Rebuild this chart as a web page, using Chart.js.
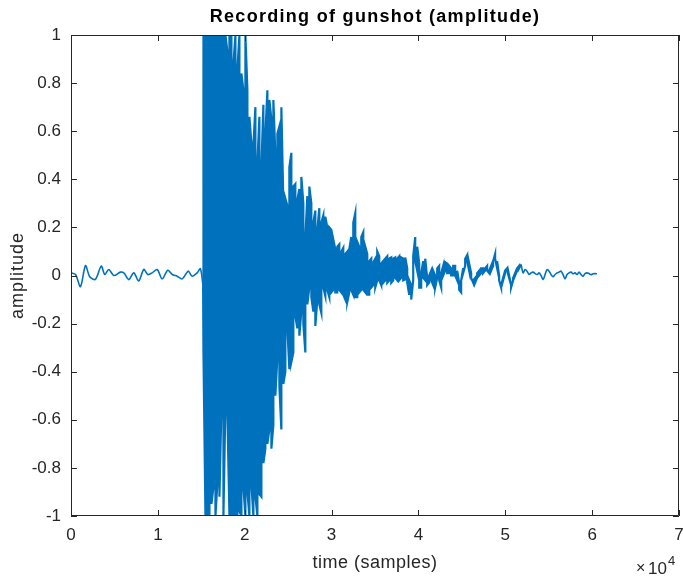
<!DOCTYPE html>
<html>
<head>
<meta charset="utf-8">
<title>Recording of gunshot (amplitude)</title>
<script src="https://cdn.jsdelivr.net/npm/chart.js@4/dist/chart.umd.min.js"></script>
<style>
    html, body { margin: 0; padding: 0; background: #ffffff; }
    #wrap { width: 683px; height: 579px; }
</style>
</head>
<body>
<div id="wrap"><canvas id="gunshot-chart" width="683" height="579"></canvas></div>
<script>
// Lead-in before the shot (sample index, amplitude)
const quietX = [0, 520, 1090, 1670, 2160, 2820, 3480, 3890, 4350, 4930, 5700, 6080, 6650, 7230, 7800,
    8380, 8840, 9340, 9920, 10500, 11140, 11650, 12220, 12800, 13490, 13950, 14520, 14900, 15210];
const quietY = [0.011, 0.004, -0.046, 0.041, -0.005, -0.016, 0.039, 0.004, 0.025, 0.0, 0.014, 0.011, -0.017, 0.011, -0.023,
    0.025, 0.004, 0.011, 0.025, -0.014, 0.022, 0.004, -0.003, -0.014, 0.018, -0.003, 0.011, 0.028, -0.046];

// The shot itself: upper / lower swing read every 230 samples from 15250 on
const burstStart = 15250;
const burstStep = 230;
const burstHi = [
    1.0, 1.0, 1.0, 1.0, 1.0, 1.0, 1.0, 1.0, 1.0, 1.0,
    1.0, 1.0, 0.93, 1.0, 1.0, 0.88, 1.0, 0.86, 1.0, 0.84,
    0.77, 1.0, 0.77, 0.66, 0.55, 0.54, 0.70, 0.47, 0.66, 0.45,
    0.71, 0.59, 0.77, 0.73, 0.65, 0.73, 0.50, 0.59, 0.62, 0.70,
    0.30, 0.32, 0.29, 0.45, 0.51, 0.37, 0.38, 0.315, 0.36, 0.41,
    0.30, 0.16, 0.33, 0.37, 0.30, 0.22, 0.27, 0.19, 0.28, 0.22,
    0.25, 0.245, 0.20, 0.20, 0.19, 0.15, 0.11, 0.12, 0.13, 0.10,
    0.115, 0.09, 0.10, 0.11, 0.16, 0.22, 0.26, 0.14, 0.12, 0.16,
    0.18, 0.12, 0.09, 0.06, 0.07, 0.055, 0.07, 0.10, 0.08, 0.05,
    0.06, 0.07, 0.08, 0.07, 0.075, 0.07, 0.075, 0.07, 0.08, 0.075,
    0.07, 0.075, 0.03, -0.02, -0.04, 0.08, 0.16, 0.12, 0.05, 0.01,
    0.06, 0.07, -0.01, 0.0, 0.02, 0.02, 0.0, 0.03, 0.04, 0.01,
    0.04, 0.056, 0.05, 0.04, 0.03, 0.04, 0.04, 0.02, -0.03, -0.02,
    0.03, 0.07, 0.085, 0.05, 0.01, -0.02, -0.01, 0.01, 0.02, 0.03,
    0.03, 0.03, 0.04, 0.02, 0.04, 0.06, 0.09, 0.06, 0.0, -0.04,
    -0.01, 0.02, 0.03, 0.0, -0.04, -0.01, 0.01, 0.03, 0.04
];
const burstLo = [
    -0.32, -1.0, -1.0, -1.0, -0.95, -0.88, -1.0, -0.86, -0.92, -0.55,
    -1.0, -0.53, -0.58, -1.0, -1.0, -1.0, -1.0, -1.0, -0.98, -1.0,
    -0.88, -1.0, -0.90, -1.0, -0.87, -1.0, -0.92, -1.0, -0.91, -0.92,
    -0.78, -0.72, -0.70, -0.64, -0.72, -0.62, -0.50, -0.34, -0.46, -0.64,
    -0.45, -0.40, -0.22, -0.39, -0.36, -0.32, -0.17, -0.22, -0.25, -0.15,
    -0.20, -0.32, -0.12, -0.05, -0.09, -0.15, -0.21, -0.10, -0.12, -0.155,
    -0.05, -0.085, -0.06, -0.09, -0.07, -0.06, -0.07, -0.07, -0.06, -0.07,
    -0.08, -0.10, -0.11, -0.07, -0.06, -0.08, -0.09, -0.09, -0.07, -0.06,
    -0.06, -0.07, -0.08, -0.08, -0.05, -0.04, -0.05, -0.02, -0.02, -0.04,
    -0.03, -0.02, -0.03, -0.02, -0.03, -0.02, -0.01, -0.02, -0.02, -0.01,
    -0.02, -0.017, -0.03, -0.08, -0.10, -0.02, 0.06, 0.02, -0.05, -0.05,
    -0.01, -0.02, -0.04, -0.03, -0.02, -0.04, -0.05, -0.01, -0.02, -0.05,
    0.0, 0.02, 0.01, 0.01, 0.0, 0.0, 0.0, -0.02, -0.06, -0.07,
    0.01, 0.04, 0.06, 0.02, -0.01, -0.03, -0.03, -0.01, 0.0, 0.01,
    0.01, 0.02, 0.02, 0.01, 0.02, 0.04, 0.07, 0.03, -0.02, -0.05,
    -0.02, 0.01, 0.02, -0.01, -0.05, -0.02, 0.0, 0.02, 0.03
];

// Decaying tail, one reading every 230 samples
const tailStart = 51820;
const tailY = [0.046, 0.011, 0.025, 0.018, 0.004, 0.011, 0.014, 0.008, 0.004, 0.011,
    0.0, -0.017, 0.004, 0.025, 0.018, 0.004, -0.005, 0.004, 0.011, 0.014,
    0.018, 0.004, -0.014, 0.004, 0.011, 0.014, 0.007, 0.011, 0.004, 0.014,
    0.004, -0.003, 0.008, 0.011, 0.008, 0.003, 0.007, 0.008, 0.007];

// Axis ticks
const xTicks = [0, 10000, 20000, 30000, 40000, 50000, 60000, 70000];
const yTicks = [-1, -0.8, -0.6, -0.4, -0.2, 0, 0.2, 0.4, 0.6, 0.8, 1];

const lineColor = '#0072BD';
const axisColor = '#262626';
const fontFamily = "'Liberation Sans', Arial, Helvetica, sans-serif";

/**
 * Point lists for the three parts of the recording
 */
function leadInPoints() {
    return quietX.map((s, i) => ({ x: s, y: quietY[i] }));
}

function tailPoints() {
    return tailY.map((v, i) => ({ x: tailStart + i * burstStep, y: v }));
}

function burstPoints() {
    // joins the lead-in and the tail so the trace stays unbroken
    const lead = leadInPoints();
    const points = [lead[lead.length - 1]];
    burstHi.forEach((v, i) => {
        const s = burstStart + i * burstStep;
        // swing up-down, then down-up, so each column is one stroke
        if (i % 2 === 0) {
            points.push({ x: s, y: v }, { x: s, y: burstLo[i] });
        } else {
            points.push({ x: s, y: burstLo[i] }, { x: s, y: v });
        }
    });
    points.push(tailPoints()[0]);
    return points;
}

// Box, inward ticks and the texts, drawn the way MATLAB does it
const matlabAxes = {
    id: 'matlabAxes',
    afterDatasetsDraw(chart) {
        const { ctx, chartArea: a, scales: { x, y } } = chart;
        const tick = 6;
        ctx.save();
        ctx.strokeStyle = axisColor;
        ctx.lineWidth = 1;
        ctx.beginPath();
        ctx.rect(a.left + 0.5, a.top + 0.5, a.right - a.left - 1, a.bottom - a.top - 1);
        xTicks.forEach(v => {
            const px = Math.round(x.getPixelForValue(v)) + 0.5;
            ctx.moveTo(px, a.bottom); ctx.lineTo(px, a.bottom - tick);
            ctx.moveTo(px, a.top); ctx.lineTo(px, a.top + tick);
        });
        yTicks.forEach(v => {
            const py = Math.round(y.getPixelForValue(v)) + 0.5;
            ctx.moveTo(a.left, py); ctx.lineTo(a.left + tick, py);
            ctx.moveTo(a.right, py); ctx.lineTo(a.right - tick, py);
        });
        ctx.stroke();

        const cx = (a.left + a.right) / 2;
        ctx.fillStyle = '#000000';
        ctx.textAlign = 'center';
        ctx.textBaseline = 'middle';
        ctx.font = 'bold 18px ' + fontFamily;
        ctx.letterSpacing = '1.3px';
        ctx.fillText('Recording of gunshot (amplitude)', cx, 17);

        ctx.fillStyle = axisColor;
        ctx.font = '18px ' + fontFamily;
        ctx.letterSpacing = '0.5px';
        ctx.fillText('time (samples)', cx, 563);

        ctx.save();
        ctx.translate(18, (a.top + a.bottom) / 2);
        ctx.rotate(-Math.PI / 2);
        ctx.letterSpacing = '1px';
        ctx.fillText('amplitude', 0, 0);
        ctx.restore();

        // x10^4 exponent label
        ctx.letterSpacing = '0px';
        ctx.textAlign = 'left';
        ctx.font = '16px ' + fontFamily;
        ctx.fillText('\u00d7', 636, 569);
        ctx.font = '17px ' + fontFamily;
        ctx.fillText('10', 648, 569);
        ctx.font = '13px ' + fontFamily;
        ctx.fillText('4', 668, 561);
        ctx.restore();
    }
};

function initGunshotChart() {
    const canvas = document.getElementById('gunshot-chart');
    if (!canvas) return;

    const common = {
        borderColor: lineColor,
        pointRadius: 0,
        fill: false,
        clip: 0
    };

    new Chart(canvas, {
        type: 'line',
        data: {
            datasets: [
                { ...common, label: 'lead-in', data: leadInPoints(), borderWidth: 1.6, tension: 0.3 },
                { ...common, label: 'shot', data: burstPoints(), borderWidth: 2.2, tension: 0 },
                { ...common, label: 'tail', data: tailPoints(), borderWidth: 1.6, tension: 0.3 }
            ]
        },
        options: {
            responsive: false,
            animation: false,
            events: [],
            layout: {
                padding: { top: 35, right: 4, left: 0, bottom: 0 }
            },
            scales: {
                x: {
                    type: 'linear',
                    min: 0,
                    max: 70000,
                    afterFit: scale => {
                        scale.height = 63;
                        scale.paddingLeft = 0;
                        scale.paddingRight = 0;
                    },
                    afterBuildTicks: scale => { scale.ticks = xTicks.map(v => ({ value: v })); },
                    ticks: {
                        color: axisColor,
                        padding: 9,
                        maxRotation: 0,
                        font: { family: fontFamily, size: 17 },
                        callback: v => String(v / 10000)
                    },
                    grid: { display: false, drawTicks: false },
                    border: { display: false }
                },
                y: {
                    min: -1,
                    max: 1,
                    afterFit: scale => {
                        scale.width = 71;
                        scale.paddingTop = 0;
                        scale.paddingBottom = 0;
                    },
                    afterBuildTicks: scale => { scale.ticks = yTicks.map(v => ({ value: v })); },
                    ticks: {
                        color: axisColor,
                        padding: 10,
                        font: { family: fontFamily, size: 17 },
                        callback: v => String(Number(v.toFixed(1)))
                    },
                    grid: { display: false, drawTicks: false },
                    border: { display: false }
                }
            },
            plugins: {
                legend: { display: false },
                tooltip: { enabled: false },
                title: { display: false }
            }
        },
        plugins: [matlabAxes]
    });
}

document.addEventListener('DOMContentLoaded', function() {
    initGunshotChart();
});
</script>
</body>
</html>
